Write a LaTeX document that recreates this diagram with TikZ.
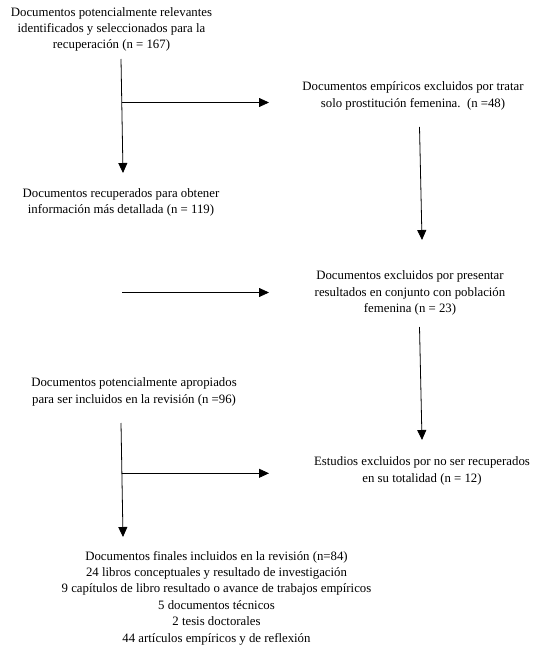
\documentclass[tikz,border=0pt]{standalone}
\usepackage{fontspec}
\setmainfont{Liberation Serif}
\usepackage{tikz}
\usetikzlibrary{arrows.meta}

\begin{document}
\begin{tikzpicture}[x=1pt,y=-1pt,
    texto/.style={align=center,inner sep=0pt,font=\fontsize{12.8}{16.4}\selectfont},
    flecha/.style={line width=0.8pt,-{Triangle[length=10pt,width=9pt]}}]
        \useasboundingbox (0,0) rectangle (541,660);
        %Textos
        \node[texto] (ident) at (111.5,29.5) {Documentos potencialmente relevantes\\identificados y seleccionados para la\\recuperación (n = 167)};
        \node[texto] (empir) at (413,96) {Documentos empíricos excluidos por tratar\\solo prostitución femenina.\ \ (n =48)};
        \node[texto] (recup) at (121,202.5) {Documentos recuperados para obtener\\información más detallada (n = 119)};
        \node[texto] (conj) at (410,293) {Documentos excluidos por presentar\\resultados en conjunto con población\\femenina (n = 23)};
        \node[texto] (aprop) at (134,392) {Documentos potencialmente apropiados\\para ser incluidos en la revisión (n =96)};
        \node[texto] (total) at (422,471) {Estudios excluidos por no ser recuperados\\en su totalidad (n = 12)};
        \node[texto] (final) at (216.5,598) {Documentos finales incluidos en la revisión (n=84)\\24 libros conceptuales y resultado de investigación\\9 capítulos de libro resultado o avance de trabajos empíricos\\5 documentos técnicos\\2 tesis doctorales\\44 artículos empíricos y de reflexión};
        %Puntos
        \coordinate (a1) at (121,59);
        \coordinate (a2) at (123,173);
        \coordinate (b1) at (121.5,102.5);
        \coordinate (b2) at (269,102.5);
        \coordinate (c1) at (419.5,127);
        \coordinate (c2) at (422,240);
        \coordinate (d1) at (122,292.5);
        \coordinate (d2) at (269,292.5);
        \coordinate (e1) at (419.5,327);
        \coordinate (e2) at (422,440);
        \coordinate (f1) at (121,423);
        \coordinate (f2) at (123,537);
        \coordinate (g1) at (121.5,473.3);
        \coordinate (g2) at (269,473.3);
        %Flechas
        \draw[flecha] (a1)--(a2);
        \draw[flecha] (b1)--(b2);
        \draw[flecha] (c1)--(c2);
        \draw[flecha] (d1)--(d2);
        \draw[flecha] (e1)--(e2);
        \draw[flecha] (f1)--(f2);
        \draw[flecha] (g1)--(g2);
    \end{tikzpicture}
\end{document}
